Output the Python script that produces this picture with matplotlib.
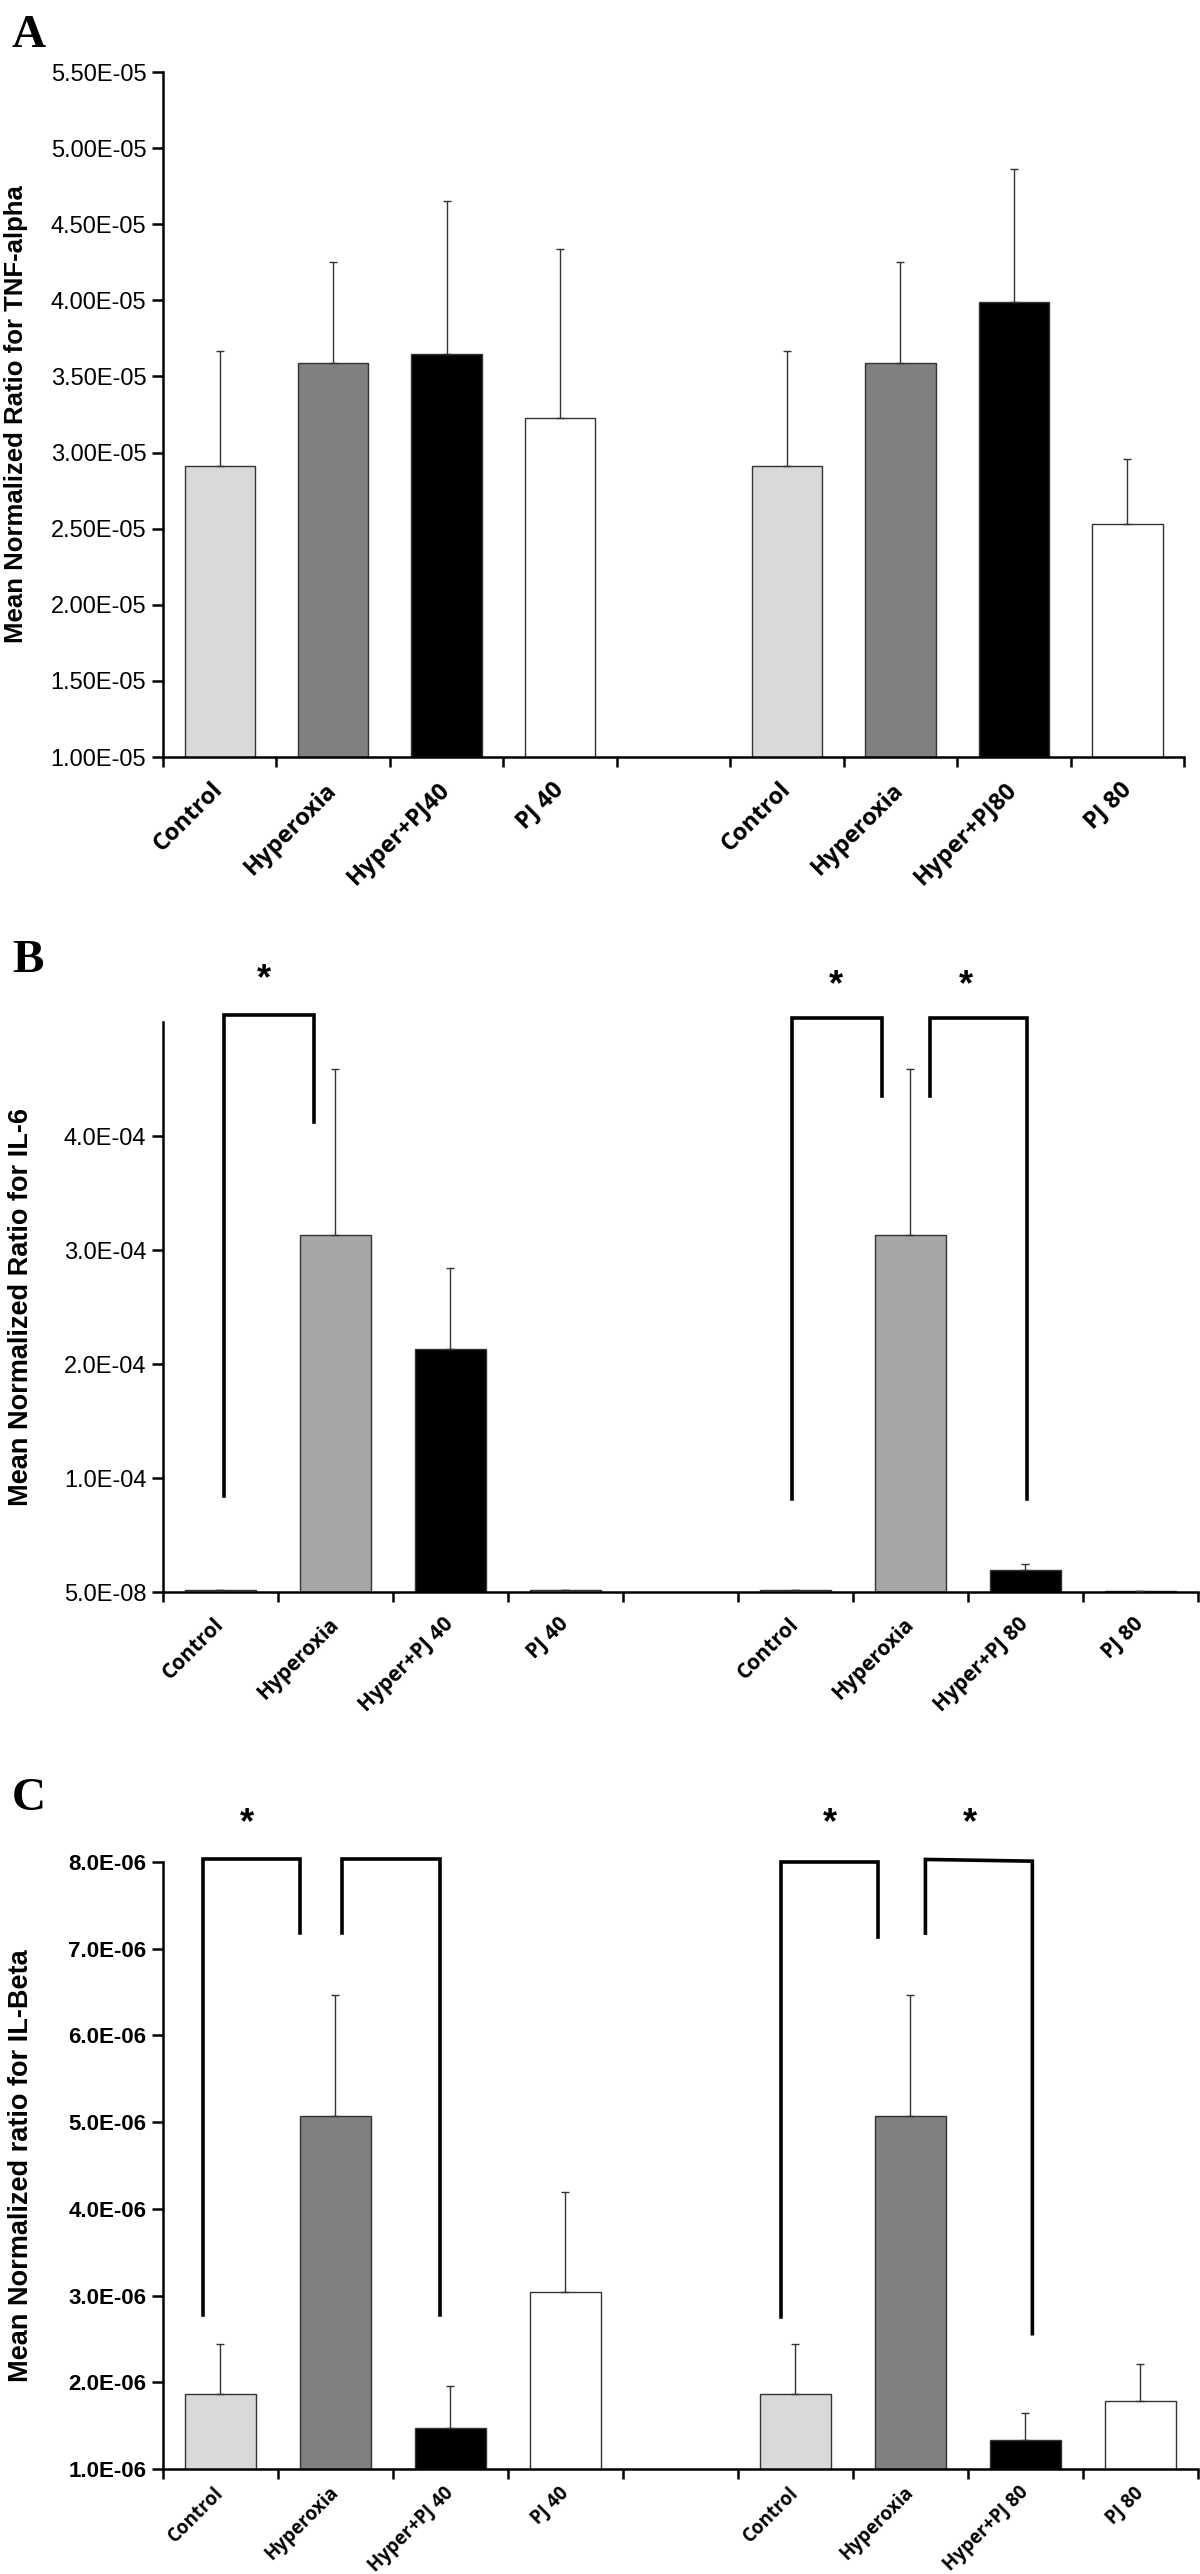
import matplotlib
matplotlib.use("Agg")
import matplotlib.pyplot as plt
import numpy as np

# group labels (two dose groups of four bars each)
labels_a = ['Control', 'Hyperoxia', 'Hyper+PJ40', 'PJ 40',
            'Control', 'Hyperoxia', 'Hyper+PJ80', 'PJ 80']
labels_bc = ['Control', 'Hyperoxia', 'Hyper+PJ 40', 'PJ 40',
             'Control', 'Hyperoxia', 'Hyper+PJ 80', 'PJ 80']

# A: TNF-alpha
tnf_mean = [2.91e-5, 3.59e-5, 3.65e-5, 3.23e-5, 2.91e-5, 3.59e-5, 3.99e-5, 2.53e-5]
tnf_err = [0.76e-5, 0.66e-5, 1.00e-5, 1.11e-5, 0.76e-5, 0.66e-5, 0.87e-5, 0.43e-5]

# B: IL-6
il6_mean = [2.0e-6, 3.13e-4, 2.13e-4, 2.0e-6, 2.0e-6, 3.13e-4, 1.9e-5, 1.0e-6]
il6_err = [0.0, 1.46e-4, 0.71e-4, 0.0, 0.0, 1.46e-4, 0.6e-5, 0.0]

# C: IL-Beta
il1_mean = [1.87e-6, 5.07e-6, 1.47e-6, 3.04e-6, 1.87e-6, 5.07e-6, 1.34e-6, 1.78e-6]
il1_err = [0.57e-6, 1.40e-6, 0.49e-6, 1.15e-6, 0.57e-6, 1.40e-6, 0.30e-6, 0.43e-6]

colors_a = ['#d9d9d9', '#808080', '#000000', '#ffffff'] * 2
colors_b = ['#d9d9d9', '#a6a6a6', '#000000', '#ffffff'] * 2

# bar slots: 0-3, gap at 4, 5-8
xpos = np.array([0, 1, 2, 3, 5, 6, 7, 8])

fig = plt.figure(figsize=(12, 25.74), dpi=100)


def panel(rect, means, errs, colors, labels, ylim, yticks, fmt, ylabel,
          tick_bold=False, xlab_size=16, xlab_pad=22, ylab_size=19.5, label_x=-0.13):
    ax = fig.add_axes(rect)
    ax.bar(xpos, means, width=0.62, color=colors, edgecolor='#333333', linewidth=1.0, zorder=2)
    ax.errorbar(xpos, means, yerr=[np.zeros(len(errs)), errs], fmt='none',
                ecolor='#333333', elinewidth=1.0, capsize=3, capthick=1.0, zorder=3)
    ax.set_xlim(-0.5, 8.5)
    ax.set_ylim(*ylim)
    ax.set_yticks(yticks)
    ax.set_yticklabels([fmt % v for v in yticks])
    for s in ['top', 'right']:
        ax.spines[s].set_visible(False)
    for s in ['left', 'bottom']:
        ax.spines[s].set_linewidth(1.8)
    # tick marks at slot boundaries, labels at bar centres
    ax.set_xticks(np.arange(-0.5, 9.0, 1.0))
    ax.set_xticklabels([])
    ax.set_xticks(xpos, minor=True)
    ax.set_xticklabels(labels, minor=True, rotation=45, ha='right', va='center',
                       rotation_mode='anchor', family='Open Sans', weight='bold',
                       fontsize=xlab_size)
    ax.tick_params(axis='x', which='major', direction='out', length=7, width=1.8)
    ax.tick_params(axis='x', which='minor', length=0, pad=xlab_pad)
    ax.tick_params(axis='y', direction='out', length=8, width=1.8, pad=4)
    for t in ax.get_yticklabels():
        t.set_family('Liberation Sans')
        t.set_fontsize(17 if not tick_bold else 16)
        if tick_bold:
            t.set_weight('bold')
    ax.set_ylabel(ylabel, family='Liberation Sans', weight='bold', fontsize=ylab_size)
    ax.yaxis.set_label_coords(label_x, 0.5)
    return ax


def bracket(ax, x0, x1, y_left, y_top, y_right, y_top2=None):
    if y_top2 is None:
        y_top2 = y_top
    ax.plot([x0, x0, x1, x1], [y_left, y_top, y_top2, y_right], color='black',
            lw=2.6, clip_on=False, solid_joinstyle='miter', zorder=4)


def star(ax, x, y):
    ax.text(x, y, '*', ha='center', va='center', fontsize=26, weight='bold',
            family='Liberation Sans', clip_on=False)


# Panel A
axA = panel([0.1358, 0.7059, 0.851, 0.2661], tnf_mean, tnf_err, colors_a, labels_a,
            (1.0e-5, 5.5e-5), np.arange(1.0e-5, 5.51e-5, 0.5e-5), '%.2E',
            'Mean Normalized Ratio for TNF-alpha', xlab_size=17, xlab_pad=21,
            ylab_size=18.5, label_x=-0.132)

# Panel B
axB = panel([0.1358, 0.3815, 0.8625, 0.2214], il6_mean, il6_err, colors_b, labels_bc,
            (5e-8, 5e-4), [5e-8, 1e-4, 2e-4, 3e-4, 4e-4], '%.1E',
            'Mean Normalized Ratio for IL-6', xlab_size=15, xlab_pad=21,
            ylab_size=19.5, label_x=-0.125)
bracket(axB, xpos[0] + 0.03, xpos[1] - 0.19, 0.84e-4, 5.06e-4, 4.12e-4)
bracket(axB, xpos[4] - 0.03, xpos[5] - 0.25, 0.82e-4, 5.04e-4, 4.35e-4)
bracket(axB, xpos[5] + 0.17, xpos[6] + 0.01, 4.35e-4, 5.04e-4, 0.82e-4)
star(axB, 0.38, 5.37e-4)
star(axB, 5.35, 5.32e-4)
star(axB, 6.48, 5.32e-4)

# Panel C
axC = panel([0.1358, 0.0408, 0.8625, 0.2358], il1_mean, il1_err, colors_a, labels_bc,
            (1.0e-6, 8.0e-6), np.arange(1.0e-6, 8.01e-6, 1.0e-6), '%.1E',
            'Mean Normalized ratio for IL-Beta', tick_bold=True, xlab_size=13.5,
            xlab_pad=15, ylab_size=19.5, label_x=-0.125)
bracket(axC, xpos[0] - 0.15, xpos[1] - 0.31, 2.78e-6, 8.03e-6, 7.18e-6)
bracket(axC, xpos[1] + 0.06, xpos[2] - 0.09, 7.18e-6, 8.03e-6, 2.78e-6)
bracket(axC, xpos[4] - 0.13, xpos[5] - 0.28, 2.75e-6, 8.0e-6, 7.14e-6)
bracket(axC, xpos[5] + 0.13, xpos[6] + 0.06, 7.18e-6, 8.03e-6, 2.56e-6, y_top2=8.01e-6)
star(axC, 0.23, 8.44e-6)
star(axC, 5.30, 8.44e-6)
star(axC, 6.52, 8.44e-6)

# panel letters
for lab, ytop in [('A', 15), ('B', 940), ('C', 1778)]:
    fig.text(12 / 1200, 1 - ytop / 2574, lab, ha='left', va='top',
             family='Liberation Serif', weight='bold', fontsize=34)

plt.savefig('out.png', dpi=100)
